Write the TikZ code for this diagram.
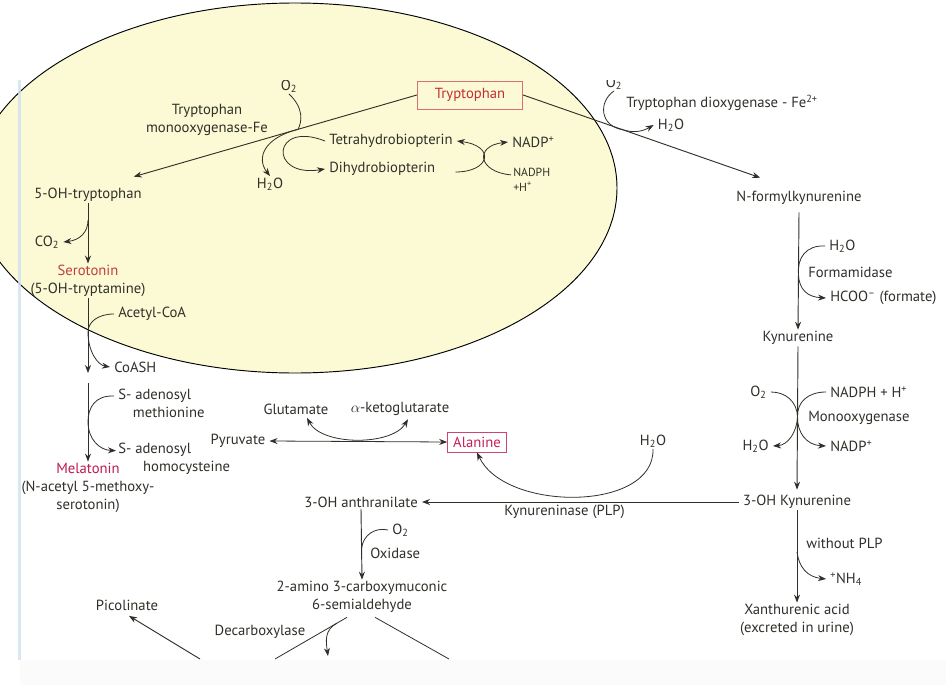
\documentclass[tikz,border=0pt]{standalone}
\usepackage{fontspec}
\setmainfont{PT Sans}
\usetikzlibrary{calc,arrows.meta,positioning}
\definecolor{ink}{RGB}{48,48,42}
\definecolor{trpred}{RGB}{196,45,55}
\definecolor{trpbox}{RGB}{214,112,118}
\definecolor{alared}{RGB}{200,30,85}
\definecolor{alabox}{RGB}{205,70,110}
\definecolor{serred}{RGB}{198,60,62}
\definecolor{melred}{RGB}{190,25,85}
\definecolor{shade}{RGB}{251,250,212}
\definecolor{edgeblue}{RGB}{208,224,242}
\definecolor{strip}{RGB}{251,251,251}

\begin{document}
\begin{tikzpicture}[x=0.75pt,y=-0.75pt,
    every node/.style={font=\fontsize{11}{13.5}\selectfont, text=ink, inner ysep=1pt, inner xsep=3pt},
    small/.style={font=\fontsize{8.8}{11}\selectfont},
    tip/.style={-{Stealth[length=6pt,width=4.5pt]}},
    rxn/.style={draw=ink, line width=0.7pt, tip},
    side/.style={draw=ink, line width=0.6pt},
    keybox/.style={draw=#1, line width=0.7pt, inner sep=2pt}]
    \useasboundingbox (0,0) rectangle (946,685);
    \fill[white] (0,0) rectangle (946,685);
    \fill[strip] (20,660) rectangle (946,685);

    \draw[fill=shade, line width=0.7pt] (295,188) ellipse [x radius=322, y radius=185];
    \fill[edgeblue, opacity=0.8] (18,80) rectangle (21,660);

    \begin{scope}
      \clip (0,81) rectangle (946,685);
      \node (o2a) at (289,86) {O\textsubscript{2}};
      \node (o2b) at (614,83) {O\textsubscript{2}};
    \end{scope}

    \node[keybox=trpbox, text=trpred, minimum width=79pt, minimum height=21pt] (trp) at (470,95) {Tryptophan};
    \node[align=center] (mono) at (207,120) {Tryptophan\\monooxygenase-Fe};
    \node (h2oa) at (270,184) {H\textsubscript{2}O};
    \node (ohtrp) at (88,195) {5-OH-tryptophan};
    \node[anchor=west] (thb) at (325,141) {Tetrahydrobiopterin};
    \node[anchor=west] (dhb) at (325,169) {Dihydrobiopterin};
    \node[anchor=west] (nadp) at (508,142) {NADP\textsuperscript{+}};
    \node[anchor=west, align=left, small] (nadph) at (509,180) {NADPH\\+H\textsuperscript{+}};

    \draw[rxn] (trp.west) -- coordinate[pos=0.42] (j1) ($(ohtrp.north east)+(-12,-10)$);
    \draw[side] (o2a.south) .. controls (304,108) and (302,122) .. (j1);
    \draw[side, tip] (j1) .. controls (264,138) and (256,158) .. (h2oa.north);
    \draw[side, tip] (thb.west) .. controls (272,120) and (268,178) .. (dhb.west);
    \draw[side, tip] ($(dhb.east)+(16,3)$) .. controls (490,172) and (496,146) .. (thb.east);
    \draw[side, tip] ($(nadph.north west)+(2,8)$) .. controls (478,172) and (474,146) .. (nadp.west);

    \node (nfk) at (799,198) {N-formylkynurenine};
    \node[anchor=west] (tdo) at (622,103) {Tryptophan dioxygenase - Fe\textsuperscript{2+}};
    \node (h2ob) at (671,125) {H\textsubscript{2}O};
    \draw[rxn] (trp.east) -- coordinate[pos=0.42] (j2) ($(nfk.north west)+(28,-12)$);
    \draw[side, tip] (o2b.south) .. controls (598,102) and (600,126) .. (j2) .. controls (636,134) and (645,130) .. (h2ob.west);

    \node (kyn) at (798,338) {Kynurenine};
    \node[anchor=west] (h2oc) at (825,246) {H\textsubscript{2}O};
    \node[anchor=west] (fmd) at (804,272) {Formamidase};
    \node[anchor=west] (hcoo) at (826,298) {HCOO\textsuperscript{--} (formate)};
    \draw[rxn] ($(nfk.south)+(0,6)$) -- coordinate[pos=0.53] (j3) (kyn.north);
    \draw[side, tip] (h2oc.west) .. controls (806,245) and (797,258) .. (j3) .. controls (799,290) and (808,297) .. (hcoo.west);

    \node (ohkyn) at (797,502) {3-OH Kynurenine};
    \node[anchor=east] (o2c) at (771,392) {O\textsubscript{2}};
    \node[anchor=west] (nadph2) at (826,392) {NADPH + H\textsuperscript{+}};
    \node[anchor=west] (mox) at (804,418) {Monooxygenase};
    \node[anchor=east] (h2oe) at (773,446) {H\textsubscript{2}O};
    \node[anchor=west] (nadp2) at (826,446) {NADP\textsuperscript{+}};
    \draw[rxn] (kyn.south) -- coordinate[pos=0.49] (j4) ($(ohkyn.north)+(0,-4)$);
    \draw[side, tip] (o2c.east) .. controls (786,392) and (797,402) .. (j4) .. controls (797,432) and (788,445) .. (h2oe.east);
    \draw[side, tip] (nadph2.west) .. controls (808,392) and (797,402) .. (j4) .. controls (797,432) and (806,445) .. (nadp2.west);

    \node[align=center] (xan) at (797,620) {Xanthurenic acid\\(excreted in urine)};
    \node[anchor=west] (wplp) at (802,543) {without PLP};
    \node[anchor=west] (nh4) at (826,579) {\textsuperscript{+}NH\textsubscript{4}};
    \draw[rxn] (ohkyn.south) -- coordinate[pos=0.45] (j6) (xan.north);
    \draw[side, tip] (j6) .. controls (799,568) and (808,577) .. (nh4.west);

    \node (ohanth) at (361,502) {3-OH anthranilate};
    \node (h2od) at (653,441) {H\textsubscript{2}O};
    \node[keybox=alabox, text=alared, minimum width=44pt, minimum height=15pt] (ala) at (477,442) {Alanine};
    \draw[rxn] (ohkyn.west) -- node[pos=0.55, below=1pt] (kyase) {Kynureninase (PLP)} (ohanth.east);
    \draw[side, tip] (h2od.south) .. controls (655,512) and (505,512) .. (ala.south);

    \node (pyr) at (238,441) {Pyruvate};
    \node (glu) at (296,409) {Glutamate};
    \node (akg) at (400,409) {$\alpha$-ketoglutarate};
    \draw[side, {Stealth[length=6pt,width=4.5pt]}-{Stealth[length=6pt,width=4.5pt]}] (pyr.east) -- (ala.west);
    \draw[side, {Stealth[length=6pt,width=4.5pt]}-{Stealth[length=6pt,width=4.5pt]}] ($(glu.south)+(11,2)$) .. controls (322,446) and (392,446) .. ($(akg.south)+(8,2)$);

    \node[align=center] (acms) at (362,597) {2-amino 3-carboxymuconic\\6-semialdehyde};
    \node[anchor=west] (o2d) at (388,530) {O\textsubscript{2}};
    \node[anchor=west] (oxd) at (366,553) {Oxidase};
    \draw[rxn] (ohanth.south) -- coordinate[pos=0.56] (j5) (acms.north);
    \draw[side] (o2d.west) .. controls (375,527) and (363,535) .. (j5);

    \coordinate (cutl) at (275,659);
    \coordinate (cutr) at (449,659);
    \coordinate (cutp) at (200,659);
    \coordinate (cox) at (328,656);
    \node (dcx) at (260,632) {Decarboxylase};
    \node (pic) at (127,605) {Picolinate};
    \draw[side] ($(acms.south)+(-15,3)$) -- coordinate[pos=0.14] (j7) (cutl);
    \draw[side] ($(acms.south)+(13,3)$) -- (cutr);
    \draw[side, tip] (j7) .. controls (324,630) and (326,642) .. (cox);
    \draw[rxn] (cutp) -- ($(pic.south)+(2,4)$);

    \node[align=center] (ser) at (88,281) {\textcolor{serred}{Serotonin}\\(5-OH-tryptamine)};
    \node (co2) at (47,242) {CO\textsubscript{2}};
    \draw[rxn] (ohtrp.south) -- coordinate[pos=0.28] (j8) (ser.north);
    \draw[side, tip] (j8) .. controls (88,232) and (80,240) .. (co2.east);

    \coordinate (nas) at (88,378);
    \node[anchor=west] (acoa) at (114,314) {Acetyl-CoA};
    \node[anchor=west] (coash) at (110,367) {CoASH};
    \draw[rxn] (ser.south) -- coordinate[pos=0.45] (j9) ($(nas)+(0,-5)$);
    \draw[side, tip] (acoa.west) .. controls (98,314) and (88,322) .. (j9) .. controls (88,352) and (98,365) .. (coash.west);

    \node[align=center] (mel) at (88,488) {\textcolor{melred}{Melatonin}\\(N-acetyl 5-methoxy-\\serotonin)};
    \node[anchor=west, align=left] (sam) at (114,403) {S- adenosyl\\\hspace*{1em}methionine};
    \node[anchor=west, align=left] (sah) at (114,459) {S- adenosyl\\\hspace*{1.7em}homocysteine};
    \draw[rxn] ($(nas)+(0,5)$) -- coordinate[pos=0.49] (j10) (mel.north);
    \draw[side, tip] ($(sam.north west)+(0,9)$) .. controls (95,395) and (88,408) .. (j10) .. controls (88,440) and (100,450) .. ($(sah.north west)+(2,9)$);
\end{tikzpicture}
\end{document}
